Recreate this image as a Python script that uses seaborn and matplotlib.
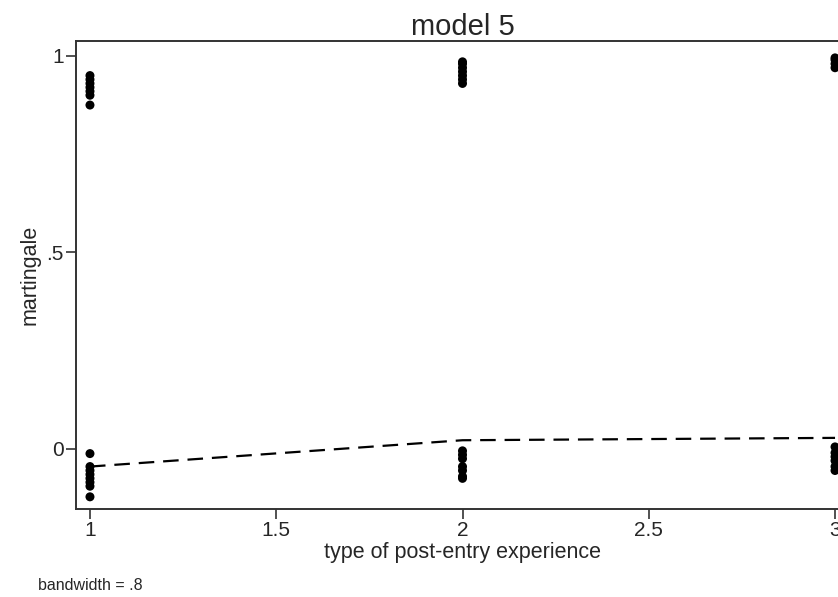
import numpy as np
import pandas as pd
import matplotlib
matplotlib.use("Agg")
import matplotlib.pyplot as plt
import seaborn as sns

# ---- data ----
x1_top = [0.875, 0.90, 0.91, 0.92, 0.93, 0.94, 0.95]
x1_bot = [-0.012, -0.045, -0.055, -0.065, -0.075, -0.085, -0.095, -0.122]
x2_top = [0.93, 0.94, 0.95, 0.96, 0.97, 0.98, 0.985]
x2_bot = [-0.005, -0.015, -0.025, -0.045, -0.055, -0.07, -0.075]
x3_top = [0.97, 0.98, 0.99, 0.995]
x3_bot = [0.005, -0.01, -0.02, -0.03, -0.045, -0.055]

smooth_x = [1, 2, 3]
smooth_y = [-0.045, 0.022, 0.028]

xticks = [1, 1.5, 2, 2.5, 3]
xticklabels = ["1", "1.5", "2", "2.5", "3"]
yticks = [0, 0.5, 1]
yticklabels = ["0", ".5", "1"]

xs, ys = [], []
for xv, vals in [(1, x1_top + x1_bot), (2, x2_top + x2_bot), (3, x3_top + x3_bot)]:
    xs += [xv] * len(vals)
    ys += vals
pts = pd.DataFrame({"x": xs, "y": ys})
sm = pd.DataFrame({"x": smooth_x, "y": smooth_y})

sns.set_style("white")
plt.rcParams["font.family"] = ["Liberation Sans", "DejaVu Sans"]

fig = plt.figure(figsize=(8.38, 5.97), dpi=100)
ax = fig.add_axes([76 / 838, 88 / 597, (849 - 76) / 838, (509 - 41) / 597])

sns.scatterplot(data=pts, x="x", y="y", ax=ax, color="black", s=42,
                edgecolor="none", zorder=3)
sns.lineplot(data=sm, x="x", y="y", ax=ax, color="black", linewidth=1.6,
             dashes=False, zorder=2)
ax.lines[-1].set_dashes([7, 4])

ax.set_xlim(0.9625, 3.0375)
ax.set_ylim(-0.153, 1.038)
ax.set_xticks(xticks)
ax.set_xticklabels(xticklabels, fontsize=15)
ax.set_yticks(yticks)
ax.set_yticklabels(yticklabels, fontsize=15)
ax.tick_params(axis="both", direction="out", length=7, width=1.2,
               color="#333333", pad=2, bottom=True, left=True)
for sp in ax.spines.values():
    sp.set_color("#333333")
    sp.set_linewidth(1.4)

ax.set_xlabel("type of post-entry experience", fontsize=15.5, labelpad=1)
ax.set_ylabel("martingale", fontsize=15.5, labelpad=4)
ax.set_title("model 5", fontsize=21, pad=4)
fig.text(38 / 838, 1 - 585 / 597, "bandwidth = .8", fontsize=11.5, va="center")

fig.savefig("out.png", dpi=100, facecolor="white")
